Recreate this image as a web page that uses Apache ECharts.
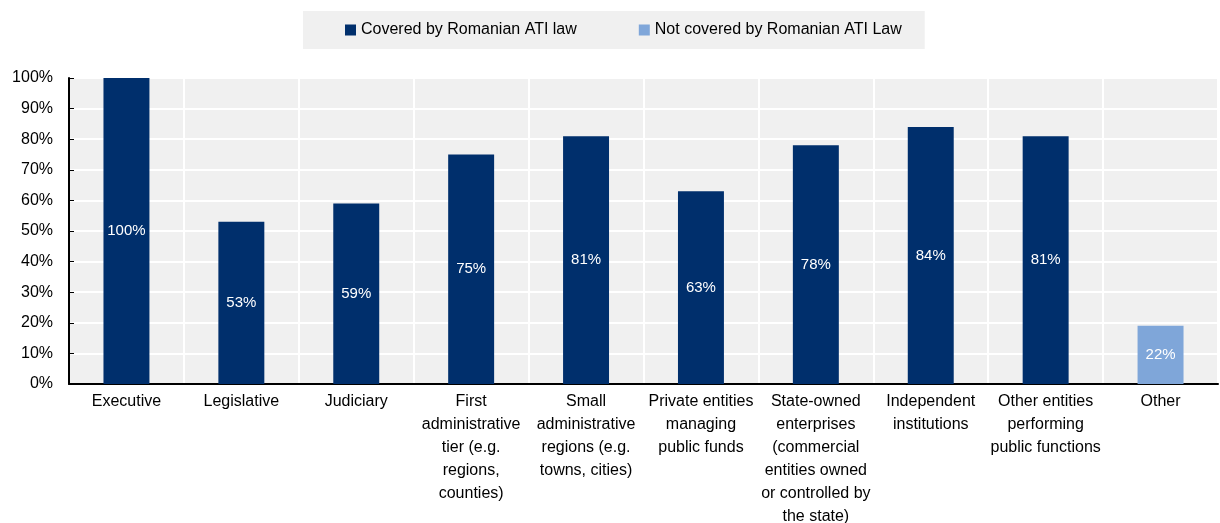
<!DOCTYPE html>
<html>
<head>
<meta charset="utf-8">
<script src="https://cdn.jsdelivr.net/npm/echarts@6/dist/echarts.min.js"></script>
<style>
  html, body { margin: 0; padding: 0; background: #fff; }
  #chart { width: 1220px; height: 523px; }
</style>
</head>
<body>
<div id="chart"></div>
<script>
const categories = [
  'Executive',
  'Legislative',
  'Judiciary',
  'First\nadministrative\ntier (e.g.\nregions,\ncounties)',
  'Small\nadministrative\nregions (e.g.\ntowns, cities)',
  'Private entities\nmanaging\npublic funds',
  'State-owned\nenterprises\n(commercial\nentities owned\nor controlled by\nthe state)',
  'Independent\ninstitutions',
  'Other entities\nperforming\npublic functions',
  'Other'
];
// bar heights
const covered = [100, 53, 59, 75, 81, 63, 78, 84, 81, '-'];
const notCovered = ['-', '-', '-', '-', '-', '-', '-', '-', '-', 19];
// labels printed on the bars (the "Other" label differs from its bar height)
const barLabels = ['100%', '53%', '59%', '75%', '81%', '63%', '78%', '84%', '81%', '22%'];

const FONT = 'Liberation Sans, Arial, sans-serif';
const chart = echarts.init(document.getElementById('chart'), null, { renderer: 'canvas' });

const labelOpt = {
  show: true,
  position: 'inside',
  color: '#fff',
  fontSize: 15,
  fontFamily: FONT,
  formatter: (p) => barLabels[p.dataIndex]
};

chart.setOption({
  animation: false,
  legend: {
    left: 303,
    top: 11,
    padding: [11, 23, 11, 42],
    backgroundColor: '#F0F0F0',
    itemWidth: 11,
    itemHeight: 11,
    itemGap: 62,
    icon: 'rect',
    textStyle: { fontSize: 16, fontFamily: FONT, color: '#000' },
    data: ['Covered by Romanian ATI law', 'Not covered by Romanian ATI Law']
  },
  grid: {
    left: 69, right: 2, top: 78, bottom: 139,
    outerBoundsMode: 'none',
    show: true, backgroundColor: '#F0F0F0', borderWidth: 0
  },
  xAxis: {
    type: 'category',
    data: categories,
    axisLine: { lineStyle: { color: '#000', width: 2 } },
    axisTick: { inside: true, length: 5, lineStyle: { color: '#000' } },
    splitLine: { show: true, lineStyle: { color: '#fff', width: 2 } },
    axisLabel: {
      interval: 0, margin: 6, color: '#000', fontSize: 16,
      fontFamily: FONT, lineHeight: 23
    }
  },
  yAxis: {
    type: 'value',
    min: 0, max: 100, interval: 10,
    axisLine: { show: true, lineStyle: { color: '#000', width: 2 } },
    axisTick: { show: true, inside: true, length: 5, lineStyle: { color: '#000' } },
    splitLine: { show: true, lineStyle: { color: '#fff', width: 2 } },
    axisLabel: {
      margin: 16, color: '#000', fontSize: 16, fontFamily: FONT,
      formatter: '{value}%'
    }
  },
  series: [
    {
      name: 'Covered by Romanian ATI law',
      type: 'bar',
      stack: 'all',
      barWidth: '40%',
      data: covered,
      itemStyle: { color: '#002F6C' },
      label: labelOpt
    },
    {
      name: 'Not covered by Romanian ATI Law',
      type: 'bar',
      stack: 'all',
      barWidth: '40%',
      data: notCovered,
      itemStyle: { color: '#7FA6D9' },
      label: labelOpt
    }
  ]
});
</script>
</body>
</html>
